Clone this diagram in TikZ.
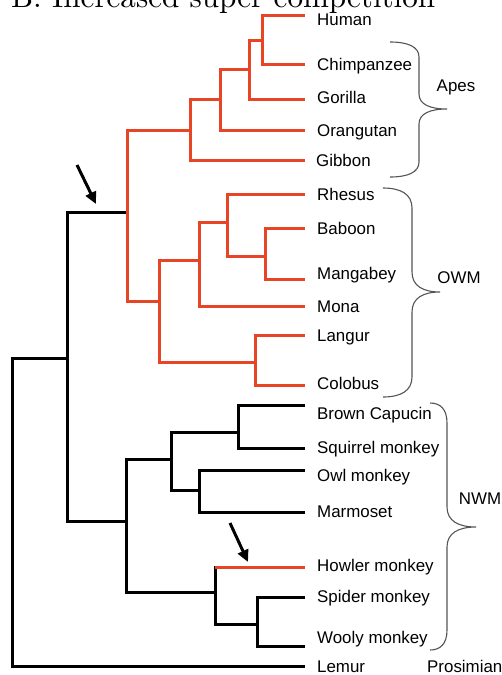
\documentclass[tikz,border=0pt]{standalone}
\usepackage{fontspec}
\usepackage{graphicx}
\newfontfamily\labfont{Liberation Sans}
\usetikzlibrary{arrows.meta}
\definecolor{treered}{RGB}{232,68,38}
\definecolor{bracegray}{RGB}{85,85,85}
\newcommand\drawbrace[7]{%
  \draw[bracepath] (#1,#4) .. controls ({#1+0.6*(#2-#1)},#4) and (#2,{#4+0.3*#7}) .. (#2,{#4+#7})
    -- (#2,{#5-#7}) .. controls (#2,{#5-0.3*#7}) and ({#2+0.4*(#3-#2)},#5) .. (#3,#5)
    .. controls ({#2+0.4*(#3-#2)},#5) and (#2,{#5+0.3*#7}) .. (#2,{#5+#7})
    -- (#2,{#6-#7}) .. controls (#2,{#6-0.3*#7}) and ({#1+0.6*(#2-#1)},#6) .. (#1,#6);}
\begin{document}
\begin{tikzpicture}[x=1pt,y=-1pt,
  edge/.style={line width=3pt, draw=black},
  rededge/.style={line width=3pt, draw=treered},
  leaf/.style={anchor=base west, inner sep=0pt, font=\labfont\fontsize{16.9}{20}\selectfont},
  grp/.style={anchor=base, inner sep=0pt, font=\labfont\fontsize{16.9}{20}\selectfont},
  pointer/.style={line width=3pt, draw=black, -{Triangle[length=12pt,width=11pt]}},
  bracepath/.style={draw=bracegray, line width=1.1pt}]
\useasboundingbox (0,0) rectangle (502,675);
\begin{scope}
  \clip (0,0) rectangle (502,675);
  \node[anchor=base west, inner sep=0pt] (title) at (11,7) {\resizebox{424pt}{!}{B: Increased super competition}};
\end{scope}

% leaf tips
\coordinate (tHuman) at (305,15);
\coordinate (tChimp) at (305,64);
\coordinate (tGorilla) at (305,99);
\coordinate (tOrang) at (305,130);
\coordinate (tGibbon) at (305,160);
\coordinate (tRhesus) at (305,194);
\coordinate (tBaboon) at (305,228);
\coordinate (tMang) at (305,279);
\coordinate (tMona) at (305,306);
\coordinate (tLangur) at (305,335);
\coordinate (tColobus) at (305,385);
\coordinate (tCapucin) at (305,405);
\coordinate (tSquirrel) at (305,448);
\coordinate (tOwl) at (305,470);
\coordinate (tMarmo) at (305,512);
\coordinate (tHowler) at (305,567);
\coordinate (tSpider) at (305,597);
\coordinate (tWooly) at (305,646);
\coordinate (tLemur) at (305,666);

% internal nodes
\coordinate (R0) at (12,400);
\coordinate (B) at (67,358);
\coordinate (A) at (127,212);
\coordinate (G1) at (190,130);
\coordinate (G2) at (220,99);
\coordinate (G3) at (249,69);
\coordinate (G4) at (262,40);
\coordinate (O1) at (159,301);
\coordinate (O2) at (199,260);
\coordinate (O3) at (227,222);
\coordinate (O4) at (265,256);
\coordinate (O5) at (255,362);
\coordinate (N) at (126,521);
\coordinate (N1) at (171,459);
\coordinate (N2) at (238,432);
\coordinate (N3) at (199,490);
\coordinate (N4) at (215,592);
\coordinate (N5) at (257,624);

% black backbone
\draw[edge] (R0) |- (B);
\draw[edge] (R0) |- (tLemur);
\draw[edge] (B) |- (A);
\draw[edge] (B) |- (N);
% red clade
\draw[rededge] (A) |- (G1);
\draw[rededge] (A) |- (O1);
\draw[rededge] (G1) |- (G2);
\draw[rededge] (G1) |- (tGibbon);
\draw[rededge] (G2) |- (G3);
\draw[rededge] (G2) |- (tOrang);
\draw[rededge] (G3) |- (G4);
\draw[rededge] (G3) |- (tGorilla);
\draw[rededge] (G4) |- (tHuman);
\draw[rededge] (G4) |- (tChimp);
\draw[rededge] (O1) |- (O2);
\draw[rededge] (O1) |- (O5);
\draw[rededge] (O2) |- (O3);
\draw[rededge] (O2) |- (tMona);
\draw[rededge] (O3) |- (tRhesus);
\draw[rededge] (O3) |- (O4);
\draw[rededge] (O4) |- (tBaboon);
\draw[rededge] (O4) |- (tMang);
\draw[rededge] (O5) |- (tLangur);
\draw[rededge] (O5) |- (tColobus);
% NWM
\draw[edge] (N) |- (N1);
\draw[edge] (N) |- (N4);
\draw[edge] (N1) |- (N2);
\draw[edge] (N1) |- (N3);
\draw[edge] (N2) |- (tCapucin);
\draw[edge] (N2) |- (tSquirrel);
\draw[edge] (N3) |- (tOwl);
\draw[edge] (N3) |- (tMarmo);
\draw[edge] (N4) |- (tHowler);
\draw[edge] (N4) |- (N5);
\draw[rededge] (N4 |- tHowler) -- (tHowler);
\draw[edge] (N5) |- (tSpider);
\draw[edge] (N5) |- (tWooly);

% labels
\node[leaf] (lHuman) at (317,25) {Human};
\node[leaf] (lChimp) at (317,70.5) {Chimpanzee};
\node[leaf] (lGorilla) at (317,103.5) {Gorilla};
\node[leaf] (lOrang) at (317,136.5) {Orangutan};
\node[leaf] (lGibbon) at (316,166.5) {Gibbon};
\node[leaf] (lRhesus) at (317,200.5) {Rhesus};
\node[leaf] (lBaboon) at (317,234.5) {Baboon};
\node[leaf] (lMang) at (317,279.3) {Mangabey};
\node[leaf] (lMona) at (317,312.5) {Mona};
\node[leaf] (lLangur) at (317,341.5) {Langur};
\node[leaf] (lColobus) at (317,389.5) {Colobus};
\node[leaf] (lCapucin) at (317,419.3) {Brown Capucin};
\node[leaf] (lSquirrel) at (317,453) {Squirrel monkey};
\node[leaf] (lOwl) at (317,481) {Owl monkey};
\node[leaf] (lMarmo) at (317,517) {Marmoset};
\node[leaf] (lHowler) at (317,571) {Howler monkey};
\node[leaf] (lSpider) at (317,602) {Spider monkey};
\node[leaf] (lWooly) at (317,643) {Wooly monkey};
\node[leaf] (lLemur) at (317,672.7) {Lemur};

% braces and group labels
\drawbrace{390}{419}{447}{42}{109}{177}{15}
\drawbrace{383}{412}{440}{188}{292}{397}{20}
\drawbrace{430}{447}{476}{403}{527}{650}{20}
\node[grp] (gApes) at (456,91) {Apes};
\node[grp] (gOWM) at (459,283) {OWM};
\node[grp] (gNWM) at (480,504) {NWM};
\node[leaf] (gPros) at (427,672.7) {Prosimian};

% arrows
\coordinate (a1s) at (77,165);
\coordinate (a1e) at (96,204);
\coordinate (a2s) at (230,523);
\coordinate (a2e) at (248,562);
\draw[pointer] (a1s) -- (a1e);
\draw[pointer] (a2s) -- (a2e);
\end{tikzpicture}
\end{document}
